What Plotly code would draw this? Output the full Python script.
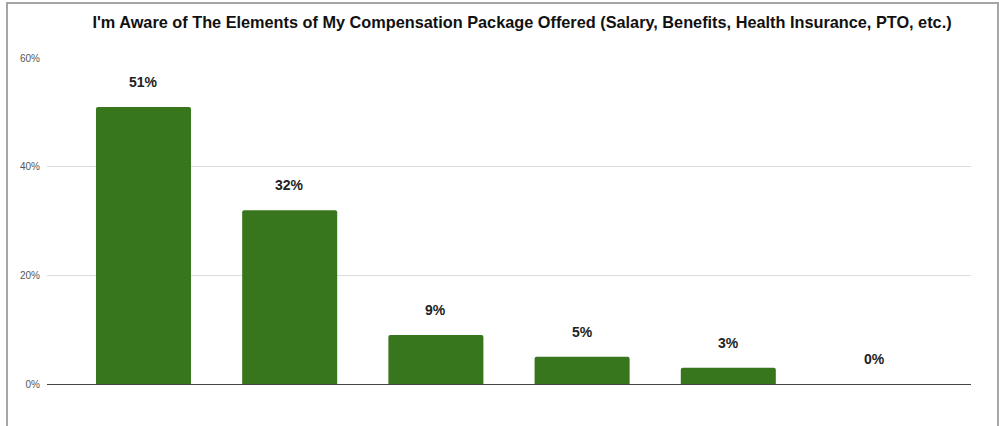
import plotly.graph_objects as go

# Survey answers (x labels are hidden in the source chart)
categories = ["Strongly Agree", "Agree", "Neutral", "Disagree", "Strongly Disagree", "N/A"]
shares = [0.51, 0.32, 0.09, 0.05, 0.03, 0.0]
tick_values = [0, 0.2, 0.4, 0.6]
tick_labels = ["0%", "20%", "40%", "60%"]

title = "I'm Aware of The Elements of My Compensation Package Offered (Salary, Benefits, Health Insurance, PTO, etc.)"

W, H = 999, 426
left, right, top, bottom = 47, 28, 58, 42
plot_w = W - left - right
plot_h = H - top - bottom

fig = go.Figure()
fig.add_trace(go.Bar(
    x=categories,
    y=shares,
    width=0.65,
    marker=dict(color="#38761d", cornerradius=2, line=dict(width=0)),
    hoverinfo="skip",
))

# value labels sit a fixed distance above each bar
for cat, val in zip(categories, shares):
    fig.add_annotation(
        x=cat, y=val, text=f"{val:.0%}", showarrow=False,
        yshift=25, yanchor="middle",
        font=dict(family="Liberation Sans", size=14, color="#222222", weight="bold"),
    )

# light grey frame around the whole chart
fig.add_shape(
    type="rect", xref="paper", yref="paper",
    x0=(7 - left) / plot_w, x1=(998 - left) / plot_w,
    y0=-(H - bottom + 60) / plot_h + 1, y1=1 + (top - 3) / plot_h,
    line=dict(color="#a6a6a6", width=2), fillcolor="rgba(0,0,0,0)", layer="below",
)

fig.update_layout(
    width=W, height=H,
    margin=dict(l=left, r=right, t=top, b=bottom),
    paper_bgcolor="white", plot_bgcolor="white",
    showlegend=False,
    title=dict(
        text=title, x=522 / W, xanchor="center", y=1 - 22 / H, yanchor="middle",
        yref="container",
        font=dict(family="Liberation Sans", size=16.3, color="#111111", weight="bold"),
    ),
    xaxis=dict(range=[-0.66, 5.66], showticklabels=False, showgrid=False,
               zeroline=False, showline=False, ticks=""),
    yaxis=dict(range=[0, 0.6], tickvals=tick_values, ticktext=tick_labels,
               showgrid=True, gridcolor="#dcdcdc", gridwidth=1,
               zeroline=True, zerolinecolor="#444444", zerolinewidth=1.3,
               tickfont=dict(family="Liberation Sans", size=10, color="#555555"),
               ticklabelstandoff=6, fixedrange=True),
)

# drop the default page margin so the figure sits at the window's corner
fig.write_html("out.html", config={"displayModeBar": False},
               post_script="document.body.style.margin='0';")
